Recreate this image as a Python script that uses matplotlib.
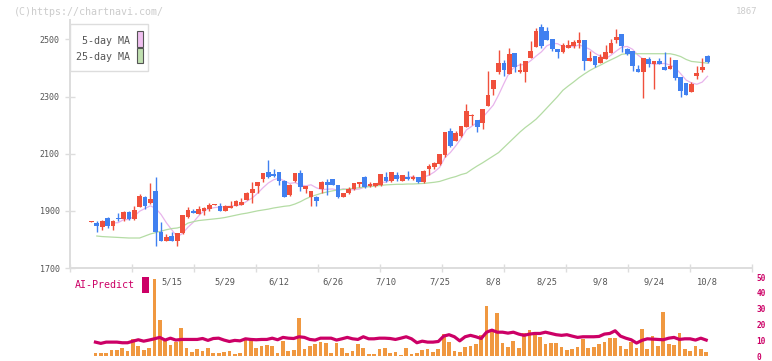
import numpy as np
import pandas as pd
import matplotlib
matplotlib.use("Agg")
import matplotlib.pyplot as plt
from matplotlib.patches import Rectangle

# daily candles, oldest first (yen)
opens = [1862, 1859, 1843, 1876, 1846, 1876, 1870, 1897, 1870, 1915,
         1950, 1926, 1971, 1825, 1796, 1813, 1796, 1821, 1880, 1898,
         1890, 1901, 1908, 1920, 1918, 1901, 1911, 1918, 1922, 1939,
         1961, 1986, 2010, 2035, 2028, 2035, 2006, 1954, 2003, 2031,
         1975, 1947, 1950, 1978, 2000, 2010, 1989, 1950, 1961, 1975,
         1993, 2020, 1986, 1986, 1989, 2020, 2003, 2024, 2006, 2020,
         2010, 2017, 2000, 2045, 2052, 2063, 2095, 2179, 2144, 2161,
         2193, 2233, 2217, 2207, 2267, 2326, 2386, 2417, 2379, 2453,
         2386, 2386, 2435, 2473, 2544, 2530, 2501, 2466, 2455, 2470,
         2477, 2487, 2498, 2424, 2442, 2417, 2431, 2452, 2498, 2519,
         2466, 2459, 2396, 2386, 2431, 2414, 2424, 2403, 2396, 2428,
         2368, 2347, 2316, 2372, 2393, 2442]
highs = [1863, 1866, 1868, 1878, 1867, 1892, 1898, 1898, 1918, 1959,
         1952, 1997, 2018, 1862, 1819, 1827, 1822, 1885, 1915, 1908,
         1918, 1913, 1926, 1924, 1926, 1920, 1936, 1937, 1946, 1966,
         2000, 2001, 2032, 2077, 2045, 2036, 2007, 1993, 2032, 2042,
         1988, 1970, 1951, 2006, 2010, 2011, 1990, 1962, 1982, 1997,
         2001, 2021, 2000, 1997, 2029, 2035, 2036, 2035, 2025, 2041,
         2024, 2018, 2042, 2063, 2070, 2099, 2177, 2189, 2180, 2197,
         2274, 2238, 2218, 2257, 2389, 2359, 2463, 2428, 2470, 2454,
         2417, 2425, 2495, 2540, 2555, 2544, 2502, 2467, 2487, 2498,
         2498, 2526, 2499, 2459, 2443, 2449, 2480, 2501, 2537, 2520,
         2470, 2460, 2410, 2436, 2438, 2425, 2435, 2456, 2438, 2429,
         2369, 2348, 2351, 2407, 2435, 2445]
lows = [1861, 1825, 1833, 1839, 1834, 1866, 1866, 1868, 1868, 1912,
        1905, 1925, 1778, 1795, 1795, 1795, 1778, 1820, 1874, 1893,
        1889, 1887, 1901, 1919, 1900, 1900, 1910, 1917, 1921, 1938,
        1929, 1964, 2000, 2016, 2020, 1989, 1949, 1953, 2002, 1968,
        1961, 1918, 1918, 1961, 1957, 1989, 1946, 1949, 1960, 1974,
        1982, 1981, 1985, 1985, 1988, 2002, 2002, 2006, 2005, 2009,
        2009, 1996, 1999, 2024, 2045, 2062, 2089, 2123, 2143, 2160,
        2192, 2200, 2175, 2186, 2266, 2305, 2379, 2372, 2378, 2386,
        2382, 2351, 2434, 2472, 2470, 2497, 2459, 2435, 2454, 2469,
        2470, 2470, 2393, 2423, 2403, 2416, 2430, 2451, 2487, 2456,
        2445, 2389, 2385, 2294, 2403, 2326, 2413, 2392, 2395, 2358,
        2298, 2304, 2315, 2361, 2386, 2417]
closes = [1863, 1846, 1866, 1846, 1866, 1870, 1897, 1870, 1904, 1953,
          1918, 1943, 1826, 1796, 1807, 1796, 1821, 1884, 1904, 1894,
          1908, 1911, 1922, 1923, 1901, 1918, 1918, 1936, 1932, 1964,
          1975, 2000, 2031, 2017, 2021, 2003, 1950, 1989, 2031, 1982,
          1986, 1968, 1936, 2000, 1989, 1990, 1947, 1961, 1978, 1996,
          2000, 1982, 1993, 1996, 2028, 2003, 2035, 2013, 2024, 2010,
          2017, 2000, 2041, 2056, 2066, 2098, 2175, 2126, 2172, 2196,
          2249, 2237, 2193, 2256, 2305, 2358, 2417, 2393, 2449, 2403,
          2393, 2424, 2459, 2530, 2477, 2498, 2466, 2455, 2480, 2480,
          2491, 2498, 2424, 2435, 2410, 2438, 2456, 2487, 2508, 2477,
          2449, 2407, 2386, 2435, 2414, 2424, 2414, 2393, 2407, 2365,
          2319, 2305, 2344, 2382, 2403, 2421]

# 25-day MA as drawn (it uses days before the window)
ma25 = [np.nan, 1812, 1810, 1809, 1808, 1807, 1806, 1805, 1805, 1805,
        1812, 1819, 1824, 1829, 1834, 1838, 1840, 1845, 1857, 1862,
        1866, 1868, 1870, 1872, 1874, 1877, 1881, 1885, 1889, 1892,
        1896, 1900, 1903, 1906, 1910, 1913, 1916, 1918, 1924, 1932,
        1942, 1950, 1956, 1962, 1966, 1970, 1973, 1975, 1977, 1979,
        1981, 1983, 1985, 1987, 1989, 1991, 1992, 1993, 1993, 1994,
        1994, 1995, 1996, 1998, 2000, 2003, 2009, 2015, 2020, 2027,
        2032, 2045, 2057, 2068, 2080, 2092, 2104, 2122, 2140, 2158,
        2176, 2192, 2206, 2221, 2240, 2260, 2280, 2300, 2322, 2337,
        2351, 2366, 2379, 2391, 2401, 2410, 2420, 2429, 2438, 2448,
        2450, 2450, 2450, 2450, 2450, 2450, 2450, 2450, 2450, 2446,
        2440, 2430, 2423, 2421, 2419, 2417]

# lower panel
volume = [np.nan, 2.0, 2.0, 2.0, 3.8, 3.8, 5.0, 3.1, 10.7, 6.3,
          3.8, 5.0, 49.0, 22.7, 9.2, 6.9, 8.8, 17.6, 5.0, 2.5,
          4.4, 3.1, 5.0, 2.0, 2.0, 2.5, 3.1, 1.3, 2.0, 11.3,
          11.3, 5.0, 6.3, 6.9, 6.3, 2.0, 9.4, 3.1, 3.8, 23.9,
          4.4, 6.3, 7.6, 8.8, 8.2, 2.0, 8.2, 5.0, 2.0, 3.1,
          7.6, 5.0, 1.3, 1.3, 4.4, 5.0, 2.0, 2.5, 0.6, 5.0,
          1.3, 2.0, 3.8, 4.4, 2.5, 4.4, 13.9, 8.8, 3.1, 2.5,
          5.7, 6.3, 7.6, 13.2, 31.5, 16.4, 27.1, 8.2, 5.7, 9.4,
          5.0, 14.5, 16.4, 13.2, 12.0, 7.6, 8.2, 8.2, 5.7, 3.8,
          4.4, 5.7, 10.7, 5.0, 5.7, 7.6, 8.8, 11.3, 11.3, 6.3,
          4.4, 8.8, 5.0, 17.0, 4.4, 12.6, 6.3, 27.7, 7.6, 6.9,
          14.5, 4.4, 3.1, 6.3, 4.4, 2.5]
ai_predict = [np.nan, 8.8, 8.0, 8.8, 8.8, 8.8, 8.4, 8.4, 9.4, 10.3,
              9.4, 10.1, 10.9, 11.8, 10.1, 11.3, 10.1, 10.5, 10.5, 10.5,
              10.5, 11.1, 9.9, 11.1, 11.3, 10.1, 9.2, 9.9, 9.6, 10.9,
              10.5, 10.3, 10.5, 10.5, 11.3, 10.3, 11.8, 11.3, 11.1, 12.2,
              11.8, 10.5, 10.1, 11.3, 11.3, 11.3, 10.1, 10.9, 11.8, 10.9,
              10.5, 12.2, 10.9, 10.9, 11.3, 11.3, 11.1, 10.5, 11.3, 12.2,
              10.9, 8.4, 9.4, 8.8, 8.8, 9.2, 12.6, 13.5, 12.2, 9.6,
              12.2, 13.1, 12.2, 11.1, 15.1, 16.4, 15.1, 15.1, 14.5, 15.1,
              13.9, 13.1, 13.9, 14.3, 14.3, 15.1, 14.3, 13.5, 13.1, 13.5,
              12.6, 11.8, 12.2, 12.2, 12.2, 12.4, 13.9, 14.3, 16.0, 12.6,
              11.3, 10.3, 8.2, 9.9, 10.9, 10.7, 10.5, 10.3, 11.3, 11.8,
              10.5, 10.9, 10.9, 10.1, 11.3, 10.1]

date_labels = ["5/15", "5/29", "6/12", "6/26", "7/10", "7/25",
               "8/8", "8/25", "9/8", "9/24", "10/8"]
date_pos = [15, 25, 35, 45, 55, 65, 75, 85, 95, 105, 115]

RED = "#f0503c"
BLUE = "#4080f0"
MONO = "DejaVu Sans Mono"

df = pd.DataFrame({"open": opens, "high": highs, "low": lows, "close": closes})
ma5 = df["close"].rolling(5).mean()
x = np.arange(len(df))
up = df["close"] >= df["open"]
colors = np.where(up, RED, BLUE)

W, H = 772, 361
fig = plt.figure(figsize=(W / 100, H / 100), dpi=100)


def fx(px):
    return px / W


def fy(py):
    return 1 - py / H


xlim = (-4.0, 123.3)

ax = fig.add_axes([fx(70), fy(268), fx(752) - fx(70), fy(20) - fy(268)])
ax.set_xlim(*xlim)
ax.set_ylim(1700, 2568)

ax.vlines(x, df["low"], df["high"], colors=colors, lw=1, zorder=3)
body_lo = np.minimum(df["open"], df["close"])
body_h = np.maximum(np.abs(df["close"] - df["open"]), 3)
ax.bar(x, body_h, bottom=body_lo, width=0.88, color=colors, lw=0, zorder=4)
ax.plot(x, ma5, color="#e8b4ec", lw=0.9, zorder=2)
ax.plot(x, ma25, color="#b4dca4", lw=0.9, zorder=2)

for s in ["top", "right"]:
    ax.spines[s].set_visible(False)
for s in ["left", "bottom"]:
    ax.spines[s].set_color("#dddddd")
    ax.spines[s].set_linewidth(1.4)

ax.set_yticks([1700, 1900, 2100, 2300, 2500])
ax.tick_params(axis="y", direction="inout", length=7, width=1, color="#dddddd",
               labelsize=6, labelcolor="#555555", pad=4)
ax.set_xticks(date_pos)
ax.set_xticklabels(date_labels)
ax.tick_params(axis="x", which="major", length=0, labelsize=6.3,
               labelcolor="#555555", pad=7)
ax.set_xticks(np.linspace(xlim[0], xlim[1], 12), minor=True)
ax.tick_params(axis="x", which="minor", direction="inout", length=6, width=1,
               color="#dddddd")
for lab in ax.get_xticklabels() + ax.get_yticklabels():
    lab.set_family(MONO)

# lower panel
ax2 = fig.add_axes([fx(70), fy(356), fx(752) - fx(70), fy(274) - fy(356)])
ax2.set_xlim(xlim[0] + 0.25, xlim[1] + 0.25)
ax2.set_ylim(0, 52)
ax2.bar(x, volume, width=0.7, color="#f09840", lw=0, zorder=2)
ax2.plot(x, ai_predict, color="#cc0066", lw=2.3, zorder=3)
for s in ax2.spines.values():
    s.set_visible(False)
ax2.patch.set_alpha(0)
ax2.set_xticks([])
ax2.yaxis.tick_right()
ax2.set_yticks([0, 10, 20, 30, 40, 50])
ax2.tick_params(axis="y", length=0, labelsize=5.6, labelcolor="#cc0066", pad=3)
for lab in ax2.get_yticklabels():
    lab.set_family(MONO)
    lab.set_fontweight("bold")

# texts and legend boxes
fig.text(fx(14), fy(12), "(C)https://chartnavi.com/", color="#cccccc",
         fontsize=7.2, family=MONO, va="center")
fig.text(fx(757), fy(12), "1867", color="#cccccc", fontsize=6.5,
         family=MONO, va="center", ha="right")

fig.add_artist(Rectangle((fx(70), fy(71)), fx(148) - fx(70), fy(24) - fy(71),
                         transform=fig.transFigure, facecolor="white",
                         edgecolor="#dddddd", lw=1, zorder=10))
fig.text(fx(130), fy(40.5), "5-day MA", color="#555555", fontsize=7.2,
         family=MONO, ha="right", va="center", zorder=11)
fig.text(fx(130), fy(57), "25-day MA", color="#555555", fontsize=7.2,
         family=MONO, ha="right", va="center", zorder=11)
fig.add_artist(Rectangle((fx(136.5), fy(46.5)), fx(6), fy(0) - fy(15),
                         transform=fig.transFigure, facecolor="#f0c0f0",
                         edgecolor="#555555", lw=0.8, zorder=11))
fig.add_artist(Rectangle((fx(136.5), fy(63)), fx(6), fy(0) - fy(15),
                         transform=fig.transFigure, facecolor="#c0e0b0",
                         edgecolor="#555555", lw=0.8, zorder=11))

fig.text(fx(75), fy(285), "AI-Predict", color="#cc0066", fontsize=7.2,
         family=MONO, va="center")
fig.add_artist(Rectangle((fx(142), fy(292.5)), fx(6.5), fy(0) - fy(16),
                         transform=fig.transFigure, facecolor="#cc0066",
                         edgecolor="none", zorder=11))

fig.savefig("out.png", dpi=100)
